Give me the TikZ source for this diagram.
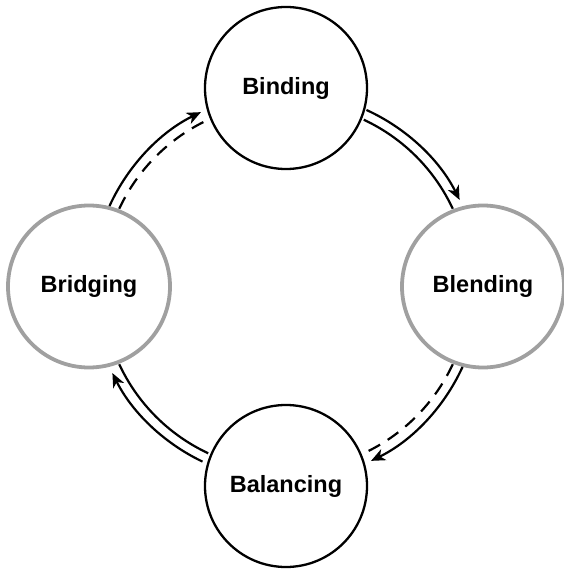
\documentclass[tikz,border=0pt]{standalone}
\usepackage{fontspec}
\setmainfont{Liberation Sans}
\usetikzlibrary{arrows.meta}
\definecolor{ringgray}{RGB}{160,160,160}
\begin{document}
\begin{tikzpicture}[x=1pt,y=1pt,
  stage/.style={circle, draw=black, line width=2.3pt, minimum size=162pt,
    inner sep=0pt, font=\bfseries\fontsize{23.5}{27}\selectfont},
  hub/.style={stage, draw=ringgray, line width=3.8pt},
  track/.style={line width=2.2pt},
  flow/.style={track, -{Stealth[length=14pt,width=12pt,inset=4pt]}},
  dashtrack/.style={track, dash pattern=on 13pt off 9pt}]
\useasboundingbox (-286,-283.5) rectangle (278,286.5);

% centre of the cycle
\coordinate (o) at (0,0);

% the four stages
\node[stage] (binding)   at (0,198.5)   {Binding};
\node[hub]   (blending)  at (197,0)     {Blending};
\node[stage] (balancing) at (0,-199.5)  {Balancing};
\node[hub]   (bridging)  at (-197,0)    {Bridging};

% end points of the paired arcs (outer radius 194, inner radius 184)
\coordinate (tl-out) at (155.5:194);
\coordinate (tl-in)  at (155:184);
\coordinate (tr-out) at (65.5:194);
\coordinate (tr-in)  at (65:184);
\coordinate (br-out) at (-24.5:194);
\coordinate (br-in)  at (-25:184);
\coordinate (bl-out) at (-115.5:194);
\coordinate (bl-in)  at (-115:184);

% Bridging -> Binding
\draw[flow]      (tl-out) arc[start angle=155.5, end angle=116, radius=194];
\draw[dashtrack] (tl-in)  arc[start angle=155,   end angle=115, radius=184];

% Binding -> Blending
\draw[flow]      (tr-out) arc[start angle=65.5, end angle=26.5, radius=194];
\draw[track]     (tr-in)  arc[start angle=65,   end angle=25,   radius=184];

% Blending -> Balancing
\draw[flow]      (br-out) arc[start angle=-24.5, end angle=-64, radius=194];
\draw[dashtrack] (br-in)  arc[start angle=-25,   end angle=-65, radius=184];

% Balancing -> Bridging
\draw[flow]      (bl-out) arc[start angle=-115.5, end angle=-153.5, radius=194];
\draw[track]     (bl-in)  arc[start angle=-115,   end angle=-155,   radius=184];
\end{tikzpicture}
\end{document}
